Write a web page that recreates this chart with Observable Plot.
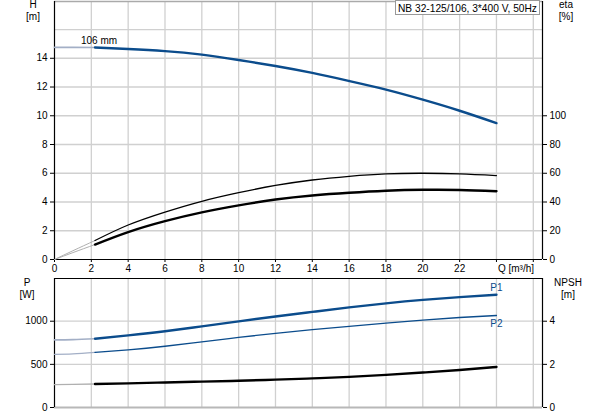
<!DOCTYPE html>
<html><head><meta charset="utf-8">
<script src="https://cdn.jsdelivr.net/npm/d3@7"></script>
<script src="https://cdn.jsdelivr.net/npm/@observablehq/plot@0.6"></script>
<style>
body{margin:0;background:#fff;font-family:"Liberation Sans",Arial,sans-serif;}
#wrap{position:relative;width:593px;height:415px;overflow:hidden;}
#wrap svg{position:absolute;left:0;}
.lbl{position:absolute;font-size:10px;color:#000;line-height:12px;white-space:nowrap;transform:translateX(-50%);}
#title{position:absolute;left:395px;top:0px;width:145px;height:15px;border:1px solid #999;background:#fff;font-size:10.2px;line-height:15px;text-align:center;box-sizing:border-box;white-space:nowrap;}
</style></head><body><div id="wrap"></div>
<script>
// Flow Q [m3/h]
const qLight = [0, 1, 2.2];
const qCurve = [2.2, 4, 6, 8, 10, 12, 14, 16, 18, 20, 22, 24];
// Head H [m]
const hLight = [14.76, 14.76, 14.75];
const hCurve = [14.75, 14.65, 14.5, 14.25, 13.88, 13.46, 12.98, 12.42, 11.82, 11.12, 10.35, 9.49];
// Efficiencies eta [%]
const eta1Light = [0, 6.1, 13.2];
const eta1Curve = [13.2, 24, 33, 40.5, 46.5, 51.5, 55.3, 57.9, 59.6, 60, 59.6, 58.4];
const eta2Light = [0, 4.8, 10.4];
const eta2Curve = [10.4, 19.1, 26.7, 32.8, 37.7, 41.7, 44.5, 46.4, 47.8, 48.5, 48.4, 47.5];
// Power P [W]
const p1Light = [784, 787, 797];
const p1Curve = [797, 836, 884, 940, 998, 1055, 1108, 1160, 1207, 1247, 1279, 1307];
const p2Light = [616, 621, 638];
const p2Curve = [638, 668, 710, 760, 812, 860, 902, 941, 978, 1013, 1043, 1066];
// NPSH [m]
const npshLight = [1.06, 1.07, 1.09];
const npshCurve = [1.09, 1.12, 1.16, 1.20, 1.24, 1.29, 1.35, 1.42, 1.51, 1.62, 1.74, 1.88];
// Ticks
const qTicks = [0, 2, 4, 6, 8, 10, 12, 14, 16, 18, 20, 22, 24, 26];
const qLabelMax = 22;
const hTicks = [0, 2, 4, 6, 8, 10, 12, 14];
const hGrid = [2, 4, 6, 8, 10, 12, 14, 16];
const etaTicks = [0, 20, 40, 60, 80, 100];
const pTicks = [0, 500, 1000];
const pGrid = [500, 1000];
const npshTicks = [0, 2, 4];
const curveLabel = "106 mm";
const titleText = "NB 32-125/106, 3*400 V, 50Hz";

const xMax = 26.5, hMax = 17.95, pMax = 1495;
const etaToH = 10;   // eta axis: 100 % at H = 10
const npshToP = 250; // NPSH axis: 4 m at P = 1000

const zip = (qs, vs) => qs.map((q, i) => ({q, v: vs[i]}));
const blue = "#0b4c8c", lightBlue = "#a3afc6", lightGray = "#b0b0b0", gridC = "#d0d0d0";
const font = {fontFamily: "Liberation Sans, Arial, sans-serif", fontSize: "10px", color: "#000", background: "transparent", overflow: "visible"};
const cv = "natural";

const topChart = Plot.plot({
  width: 593, height: 277,
  marginLeft: 54, marginRight: 51, marginTop: 1, marginBottom: 18,
  style: font,
  x: {domain: [0, xMax]},
  y: {domain: [0, hMax]},
  marks: [
    Plot.gridX(qTicks.filter(d => d > 0), {stroke: gridC, strokeOpacity: 1, strokeWidth: 1.3}),
    Plot.gridY(hGrid, {stroke: gridC, strokeOpacity: 1, strokeWidth: 1.3}),
    Plot.ruleY([hMax], {stroke: "#aaa", strokeWidth: 1.5}),
    Plot.ruleX([0, xMax], {stroke: "#000", strokeWidth: 1.2}),
    Plot.ruleY([0], {stroke: "#000", strokeWidth: 1.2}),
    Plot.axisX({ticks: qTicks, tickFormat: d => d <= qLabelMax ? d : "", tickSize: 3, tickPadding: 2, label: null}),
    Plot.axisY({anchor: "left", ticks: hTicks, tickSize: 4, tickPadding: 3, label: null}),
    Plot.axisY({anchor: "right", ticks: etaTicks.map(d => d / etaToH), tickFormat: d => Math.round(d * etaToH), tickSize: 4, tickPadding: 3, label: null}),
    Plot.line(zip(qLight, eta1Light), {x: "q", y: d => d.v / etaToH, stroke: lightGray, strokeWidth: 1, curve: cv}),
    Plot.line(zip(qLight, eta2Light), {x: "q", y: d => d.v / etaToH, stroke: lightGray, strokeWidth: 1, curve: cv}),
    Plot.line(zip(qCurve, eta1Curve), {x: "q", y: d => d.v / etaToH, stroke: "#000", strokeWidth: 1.3, curve: cv}),
    Plot.line(zip(qCurve, eta2Curve), {x: "q", y: d => d.v / etaToH, stroke: "#000", strokeWidth: 2.4, curve: cv}),
    Plot.line(zip(qLight, hLight), {x: "q", y: "v", stroke: lightBlue, strokeWidth: 1.6, curve: cv}),
    Plot.line(zip(qCurve, hCurve), {x: "q", y: "v", stroke: blue, strokeWidth: 2.4, curve: cv}),
    Plot.text([{q: qLight[1], v: hLight[1], t: curveLabel}], {x: "q", y: "v", text: "t", textAnchor: "start", dx: 8, dy: -7, fill: "#000", fontSize: 10})
  ]
});
topChart.style.top = "0px";

const bottomChart = Plot.plot({
  width: 593, height: 138,
  marginLeft: 54, marginRight: 51, marginTop: 1, marginBottom: 8,
  style: font,
  x: {domain: [0, xMax], axis: null},
  y: {domain: [0, pMax], axis: null},
  marks: [
    Plot.gridX(qTicks.filter(d => d > 0), {stroke: gridC, strokeOpacity: 1, strokeWidth: 1.3}),
    Plot.gridY(pGrid, {stroke: gridC, strokeOpacity: 1, strokeWidth: 1.3}),
    Plot.ruleY([0], {stroke: "#b8b8b8", strokeWidth: 2}),
    Plot.ruleY([pMax], {stroke: "#000", strokeWidth: 1.2}),
    Plot.ruleX([0, xMax], {stroke: "#000", strokeWidth: 1.2}),
    Plot.axisY({anchor: "left", ticks: pTicks, tickFormat: d => String(d), tickSize: 4, tickPadding: 3, label: null}),
    Plot.axisY({anchor: "right", ticks: npshTicks.map(d => d * npshToP), tickFormat: d => Math.round(d / npshToP), tickSize: 4, tickPadding: 3, label: null}),
    Plot.line(zip(qLight, npshLight), {x: "q", y: d => d.v * npshToP, stroke: lightGray, strokeWidth: 1.3, curve: cv}),
    Plot.line(zip(qCurve, npshCurve), {x: "q", y: d => d.v * npshToP, stroke: "#000", strokeWidth: 2.4, curve: cv}),
    Plot.line(zip(qLight, p1Light), {x: "q", y: "v", stroke: lightBlue, strokeWidth: 1.6, curve: cv}),
    Plot.line(zip(qCurve, p1Curve), {x: "q", y: "v", stroke: blue, strokeWidth: 2.4, curve: cv}),
    Plot.line(zip(qLight, p2Light), {x: "q", y: "v", stroke: lightBlue, strokeWidth: 1.2, curve: cv}),
    Plot.line(zip(qCurve, p2Curve), {x: "q", y: "v", stroke: blue, strokeWidth: 1.3, curve: cv}),
    Plot.text([{q: qCurve.at(-1), v: p1Curve.at(-1), t: "P1"}], {x: "q", y: "v", text: "t", dy: -7, fill: blue, fontSize: 10}),
    Plot.text([{q: qCurve.at(-1), v: p2Curve.at(-1), t: "P2"}], {x: "q", y: "v", text: "t", dy: 8, fill: blue, fontSize: 10})
  ]
});
bottomChart.style.top = "277px";

const wrap = document.getElementById("wrap");
wrap.append(topChart, bottomChart);
const addLbl = (txt, x, y) => {
  const d = document.createElement("div");
  d.className = "lbl"; d.textContent = txt;
  d.style.left = x + "px"; d.style.top = (y - 6) + "px";
  wrap.append(d);
};
addLbl("H", 33, 5); addLbl("[m]", 33, 17);
addLbl("eta", 566, 5); addLbl("[%]", 566, 17);
addLbl("P", 27, 283); addLbl("[W]", 27, 295);
addLbl("NPSH", 568, 283); addLbl("[m]", 568, 295);
addLbl("Q [m³/h]", 516, 269);
const titleBox = document.createElement("div");
titleBox.id = "title"; titleBox.textContent = titleText;
wrap.append(titleBox);
</script></body></html>
